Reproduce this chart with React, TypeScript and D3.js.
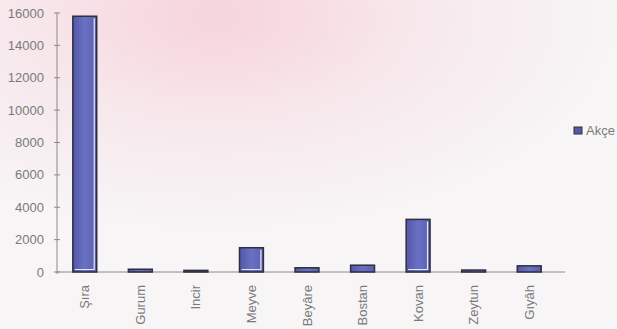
import React from "react";
import * as d3 from "d3";

const categories = ["Şıra", "Gurum", "Incir", "Meyve", "Beyâre", "Bostan", "Kovan", "Zeytun", "Gıyâh"];
const akceValues = [15800, 170, 100, 1500, 260, 420, 3250, 120, 380];
const yTicks = [0, 2000, 4000, 6000, 8000, 10000, 12000, 14000, 16000];
const seriesName = "Akçe";

const W = 617;
const H = 329;
const left = 57;
const right = 557;
const top = 13;
const bottom = 272;

export default function App() {
  const x = d3.scaleBand<string>().domain(categories).range([left, right]).paddingInner(0.57).paddingOuter(0.285);
  const y = d3.scaleLinear().domain([0, 16000]).range([bottom, top]);
  const font = "'Liberation Sans', Arial, sans-serif";
  const grey = "#7a7a7a";
  return (
    <svg width={W} height={H} style={{ position: "fixed", left: 0, top: 0 }} fontFamily={font}>
      <defs>
        <radialGradient id="pink" cx="0.35" cy="0.05" r="0.65">
          <stop offset="0" stopColor="#f6d4db" />
          <stop offset="0.5" stopColor="#f7e8ec" />
          <stop offset="1" stopColor="#f7f5f6" />
        </radialGradient>
        <linearGradient id="barFill" x1="0" x2="1" y1="0" y2="0">
          <stop offset="0" stopColor="#5358a8" />
          <stop offset="0.5" stopColor="#6a70c4" />
          <stop offset="1" stopColor="#5a5fb0" />
        </linearGradient>
      </defs>
      <rect x={0} y={0} width={W} height={H} fill="#f7f5f6" />
      <rect x={0} y={0} width={W} height={H} fill="url(#pink)" />
      {/* y axis */}
      <line x1={left} x2={left} y1={y(16000)} y2={y(0) + 2} stroke="#8a8a8a" strokeWidth={1} />
      {yTicks.map((t) => (
        <g key={t}>
          <line x1={left - 3} x2={left + 3} y1={y(t)} y2={y(t)} stroke="#8a8a8a" />
          <text x={left - 13} y={y(t)} dy="0.35em" textAnchor="end" fontSize={13} fill={grey}>
            {t}
          </text>
        </g>
      ))}
      {/* x baseline */}
      <line x1={left} x2={right + 8} y1={y(0)} y2={y(0)} stroke="#8a8a8a" />
      {categories.map((c, i) => {
        const bx = x(c)!;
        const bw = x.bandwidth();
        const by = y(akceValues[i]);
        const bh = y(0) - by;
        return (
          <g key={c}>
            <rect x={bx} y={by} width={bw} height={bh} fill="url(#barFill)" stroke="#2e2e3e" strokeWidth={1.5} />
            {bh > 8 && (
              <polyline
                points={`${bx + bw - 2.5},${by + 2} ${bx + bw - 2.5},${by + bh - 2.5} ${bx + 2},${by + bh - 2.5}`}
                fill="none"
                stroke="#e8e8f4"
                strokeWidth={1.2}
              />
            )}
            <text
              transform={`translate(${bx + bw / 2},${bottom + 13}) rotate(-90)`}
              dy="0.35em"
              textAnchor="end"
              fontSize={13}
              fill={grey}
            >
              {c}
            </text>
          </g>
        );
      })}
      {/* legend */}
      <rect x={574} y={127} width={8} height={7} fill="#5358a8" stroke="#333" strokeWidth={1} />
      <text x={586} y={130.5} dy="0.35em" fontSize={13} fill={grey}>
        {seriesName}
      </text>
    </svg>
  );
}
